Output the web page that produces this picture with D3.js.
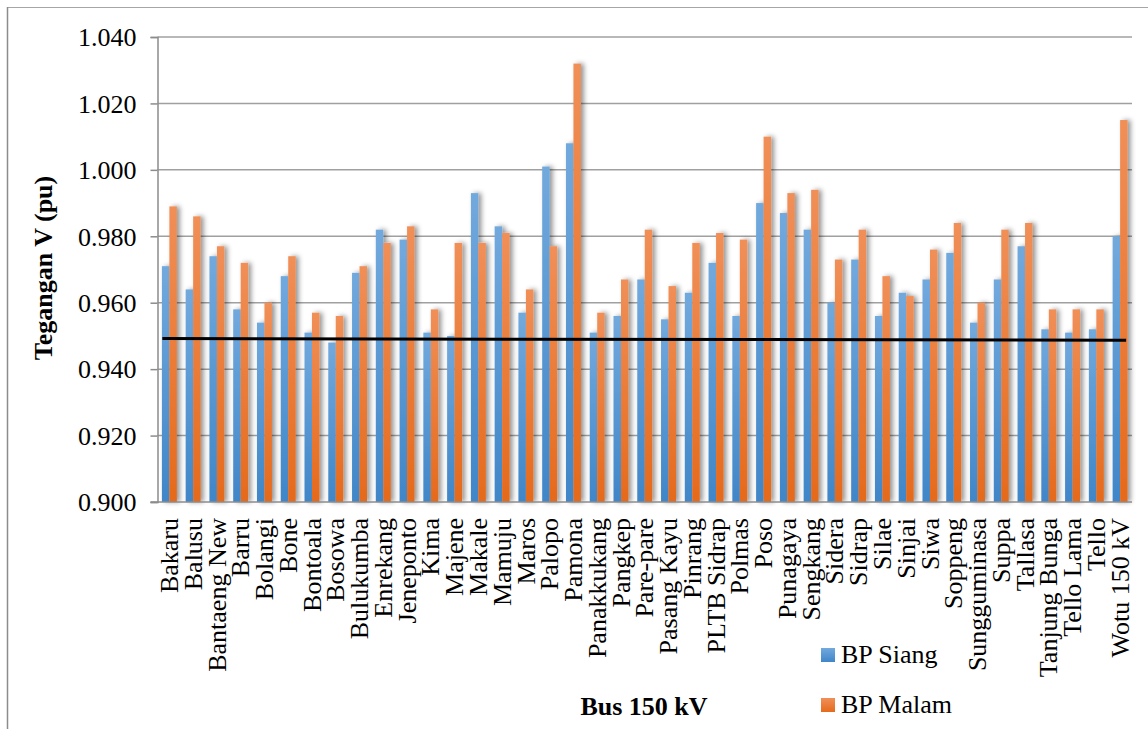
<!DOCTYPE html>
<html>
<head>
<meta charset="utf-8">
<script src="https://cdn.jsdelivr.net/npm/d3@7"></script>
<style>
  html, body { margin: 0; padding: 0; background: #fff; }
  svg { display: block; }
  svg text { font-family: "Liberation Serif", "Times New Roman", serif !important; fill: #000; }
</style>
</head>
<body>
<svg id="chart" width="1148" height="729"></svg>
<script>
const categories = ["Bakaru","Balusu","Bantaeng New","Barru","Bolangi","Bone","Bontoala","Bosowa","Bulukumba","Enrekang","Jeneponto","Kima","Majene","Makale","Mamuju","Maros","Palopo","Pamona","Panakkukang","Pangkep","Pare-pare","Pasang Kayu","Pinrang","PLTB Sidrap","Polmas","Poso","Punagaya","Sengkang","Sidera","Sidrap","Silae","Sinjai","Siwa","Soppeng","Sungguminasa","Suppa","Tallasa","Tanjung Bunga","Tello Lama","Tello","Wotu 150 kV"];
const bpSiang = [0.971,0.964,0.974,0.958,0.954,0.968,0.951,0.948,0.969,0.982,0.979,0.951,0.950,0.993,0.983,0.957,1.001,1.008,0.951,0.956,0.967,0.955,0.963,0.972,0.956,0.990,0.987,0.982,0.960,0.973,0.956,0.963,0.967,0.975,0.954,0.967,0.977,0.952,0.951,0.952,0.980];
const bpMalam = [0.989,0.986,0.977,0.972,0.960,0.974,0.957,0.956,0.971,0.978,0.983,0.958,0.978,0.978,0.981,0.964,0.977,1.032,0.957,0.967,0.982,0.965,0.978,0.981,0.979,1.010,0.993,0.994,0.973,0.982,0.968,0.962,0.976,0.984,0.960,0.982,0.984,0.958,0.958,0.958,1.015];
const limitLine = [0.9492, 0.9487];
const yTicks = [0.900,0.920,0.940,0.960,0.980,1.000,1.020,1.040];
const seriesNames = ["BP Siang","BP Malam"];

const svg = d3.select("#chart");
const L = 157.5, R = 1132, T = 37, B = 502;
const FONT = "'Liberation Serif', 'Times New Roman', serif";

const defs = svg.append("defs");
function grad(id, top, bottom) {
  const g = defs.append("linearGradient").attr("id", id).attr("x1",0).attr("y1",0).attr("x2",0).attr("y2",1);
  g.append("stop").attr("offset","0%").attr("stop-color", top);
  g.append("stop").attr("offset","100%").attr("stop-color", bottom);
}
grad("gBlue", "#72a9dd", "#4086c8");
grad("gOrange", "#f08f58", "#e56a1c");
const f = defs.append("filter").attr("id","shadow").attr("x","-50%").attr("y","-10%").attr("width","250%").attr("height","120%");
f.append("feDropShadow").attr("dx",3).attr("dy",0).attr("stdDeviation",2.4).attr("flood-color","#000").attr("flood-opacity",0.42);

// frame
svg.append("line").attr("x1",7).attr("x2",1148).attr("y1",7.5).attr("y2",7.5).attr("stroke","#a6a6a6").attr("stroke-width",1.2);
svg.append("line").attr("x1",7.5).attr("x2",7.5).attr("y1",7).attr("y2",729).attr("stroke","#8c8c8c").attr("stroke-width",1.5);

const y = d3.scaleLinear().domain([0.900, 1.040]).range([B, T]);
const x = d3.scaleBand().domain(categories).range([L, R]).paddingInner(0.37).paddingOuter(0.185);
const x1 = d3.scaleBand().domain(seriesNames).range([0, x.bandwidth()]).padding(0);

// gridlines
svg.append("g").selectAll("line").data(yTicks.slice(1)).join("line")
  .attr("x1", L).attr("x2", R).attr("y1", d => y(d)).attr("y2", d => y(d))
  .attr("stroke","#a0a0a0").attr("stroke-width",1.5);

// y axis
const yAxis = svg.append("g").attr("transform", `translate(${L},0)`)
  .call(d3.axisLeft(y).tickValues(yTicks).tickFormat(d3.format(".3f")).tickSize(7).tickPadding(14));
yAxis.attr("font-family", null).attr("font-size", null);
yAxis.select(".domain").attr("stroke","#8c8c8c").attr("stroke-width",1.5);
yAxis.selectAll(".tick line").attr("stroke","#8c8c8c").attr("stroke-width",1.5);
yAxis.selectAll(".tick text").style("font-size","26px").style("font-family",FONT).attr("fill","#000").attr("dy","0.34em");

// bars
const barsG = svg.append("g").attr("filter","url(#shadow)");
categories.forEach((c, i) => {
  const vals = [bpSiang[i], bpMalam[i]];
  vals.forEach((v, j) => {
    barsG.append("rect")
      .attr("x", x(c) + x1(seriesNames[j]))
      .attr("width", x1.bandwidth())
      .attr("y", y(v))
      .attr("height", y(0.900) - y(v))
      .attr("fill", j === 0 ? "url(#gBlue)" : "url(#gOrange)");
  });
});

// x axis line
svg.append("line").attr("x1", L - 7).attr("x2", R).attr("y1", B).attr("y2", B).attr("stroke","#8c8c8c").attr("stroke-width",1.5);

// limit line
const lx = [x(categories[0]) + 0.5, x(categories[categories.length-1]) + x.bandwidth() - 1.5];
svg.append("line")
  .attr("x1", lx[0]).attr("x2", lx[1])
  .attr("y1", y(limitLine[0])).attr("y2", y(limitLine[1]))
  .attr("stroke","#000").attr("stroke-width",3);

// category labels
svg.append("g").selectAll("text").data(categories).join("text")
  .attr("transform", d => `translate(${x(d) + x.bandwidth()/2},518) rotate(-90)`)
  .attr("text-anchor","end").attr("dy","0.33em").style("font-size","26px").style("font-family",FONT)
  .text(d => d);

// axis titles
svg.append("text").attr("transform","translate(52,268) rotate(-90)")
  .attr("text-anchor","middle").style("font-size","26px").style("font-family",FONT).attr("font-weight","bold")
  .text("Tegangan V (pu)");
svg.append("text").attr("x",644).attr("y",715)
  .attr("text-anchor","middle").style("font-size","26px").style("font-family",FONT).attr("font-weight","bold")
  .text("Bus 150 kV");

// legend
const leg = svg.append("g");
seriesNames.forEach((s, j) => {
  const yy = j === 0 ? 648 : 698;
  leg.append("rect").attr("x",821).attr("y",yy).attr("width",14).attr("height",14)
    .attr("fill", j === 0 ? "url(#gBlue)" : "url(#gOrange)");
  leg.append("text").attr("x",841).attr("y",yy + 14.5).style("font-size","26px").style("font-family",FONT).text(s);
});
</script>
</body>
</html>
